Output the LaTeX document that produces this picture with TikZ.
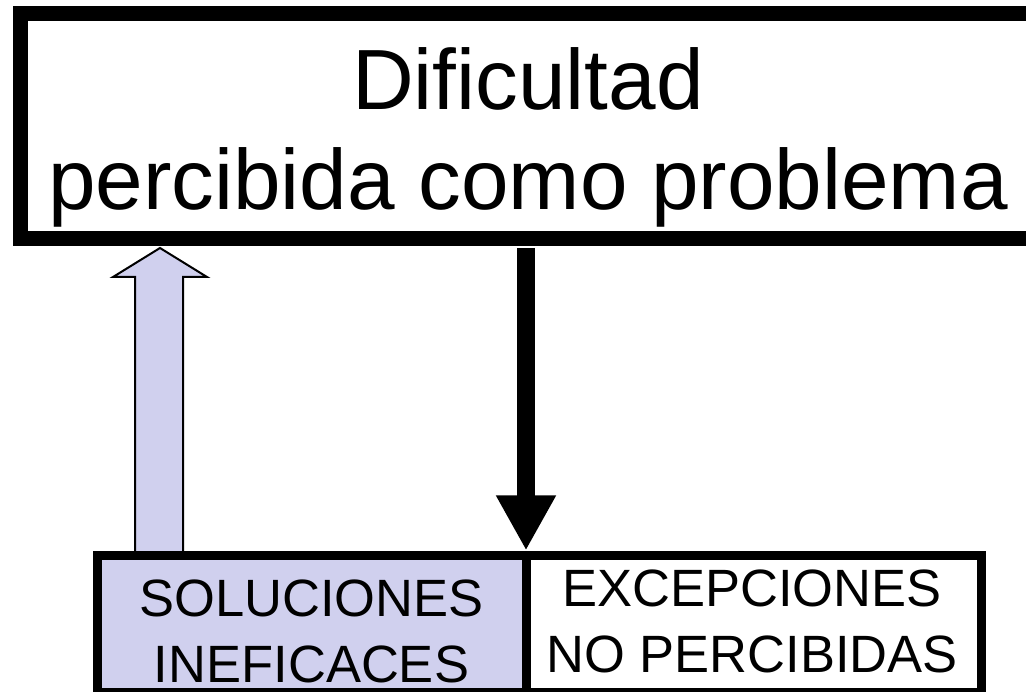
\documentclass[tikz,border=0pt]{standalone}
\usepackage{fontspec}
\setmainfont{Liberation Sans}
\usetikzlibrary{arrows.meta}
\definecolor{lav}{RGB}{208,208,238}
\begin{document}
\begin{tikzpicture}[x=1pt,y=-1pt,
  box/.style={draw=black, outer sep=0pt, inner sep=0pt},
  bigtext/.style={font=\fontsize{85.5}{100}\selectfont, align=center, inner sep=0pt, outer sep=0pt},
  smalltext/.style={font=\fontsize{52.5}{66}\selectfont, align=center, inner sep=0pt, outer sep=0pt},
  uparrow/.style={draw=black, line width=2pt, fill=lav, line join=miter},
  downarrow/.style={draw=black, line width=18pt, -{Triangle[width=56pt,length=55pt]}},
]
\useasboundingbox (0,0) rectangle (1026,692);
% up block arrow (drawn first, under the boxes)
\coordinate (ubl) at (135,553);
\coordinate (ubr) at (183,553);
\coordinate (utip) at (160,248);
\draw[uparrow] (ubl) -- (135,277) -- (113,277) -- (utip) -- (207,277) -- (183,277) -- (ubr);
% top box
\node[box, line width=15pt, minimum width=1020pt, minimum height=225pt] (top) at (530.5,126) {};
\node[bigtext, anchor=north] (ttl) at (528,48) {Dificultad\\percibida como problema};
% bottom boxes
\node[box, line width=9pt, fill=lav, minimum width=429pt, minimum height=137pt] (sol) at (311.5,623.5) {};
\node[box, line width=9pt, minimum width=455pt, minimum height=137pt] (exc) at (753.5,623.5) {};
\node[smalltext, anchor=north] (soltxt) at (311.5,580) {SOLUCIONES\\INEFICACES};
\node[smalltext, anchor=north] (exctxt) at (752,570) {EXCEPCIONES\\NO PERCIBIDAS};
% down arrow
\coordinate (dtop) at (526,248);
\coordinate (dtip) at (526,550.5);
\draw[downarrow] (dtop) -- (dtip);
\end{tikzpicture}
\end{document}
